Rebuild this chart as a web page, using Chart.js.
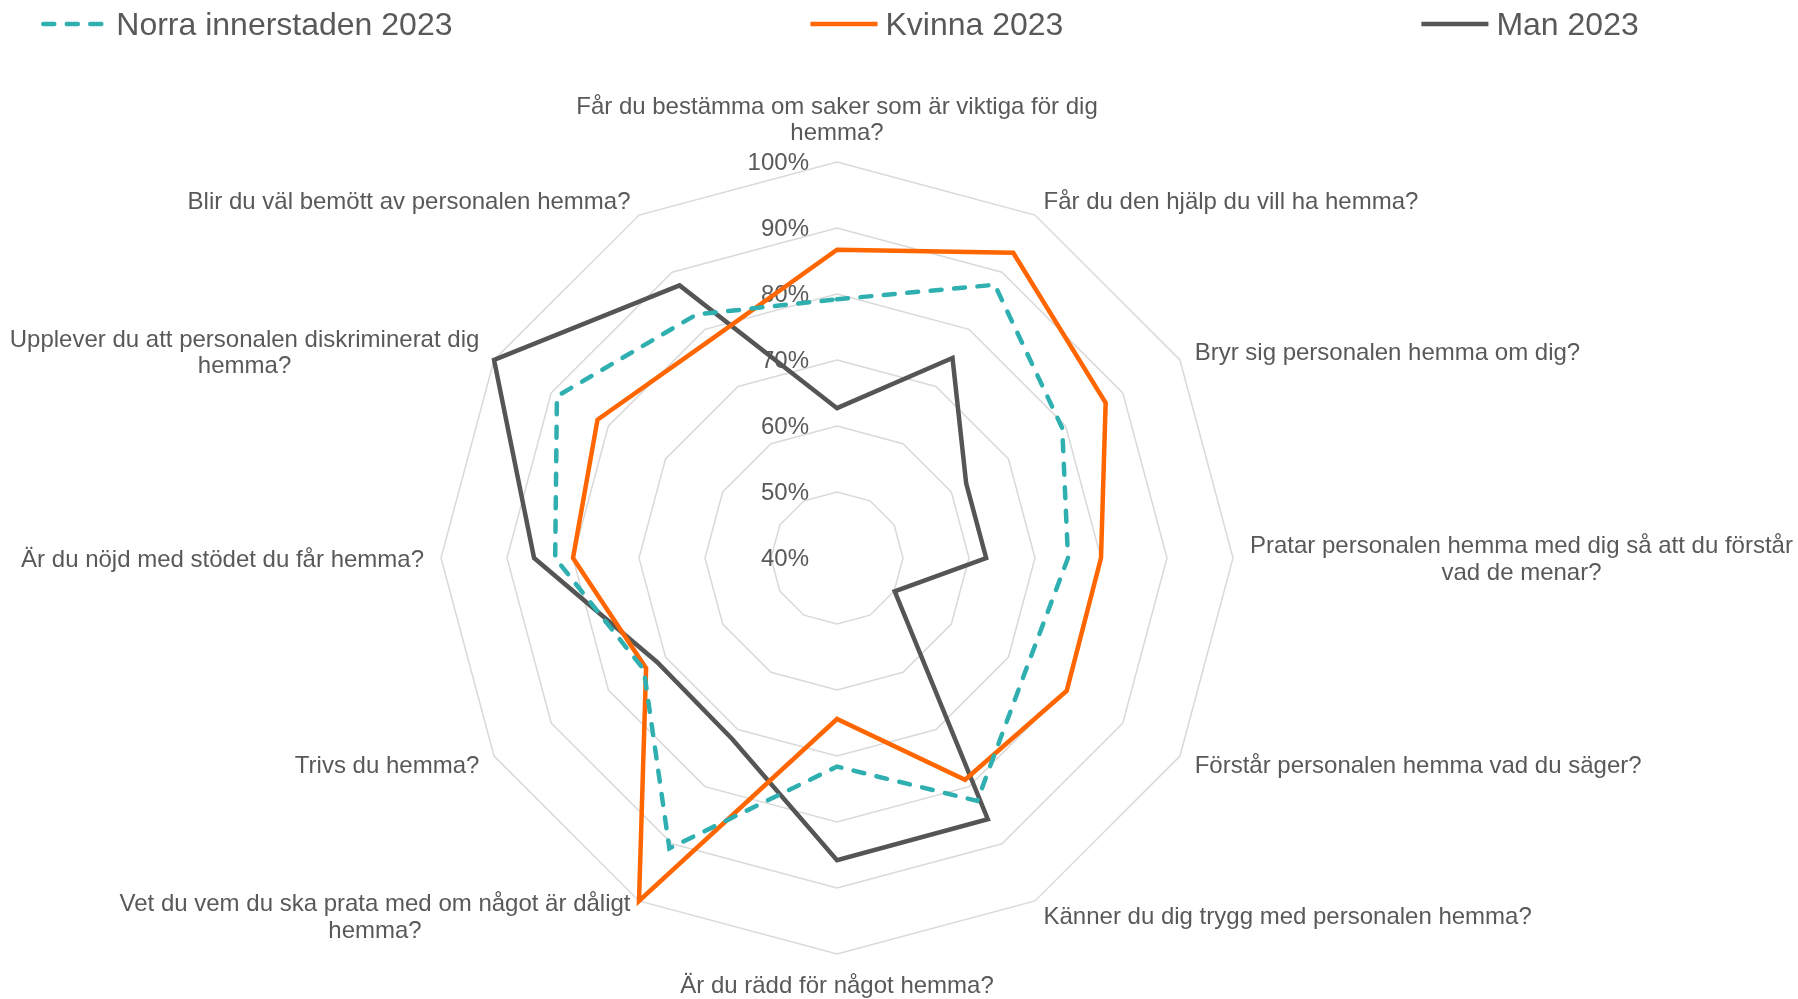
<!DOCTYPE html>
<html>
<head>
<meta charset="utf-8">
<script src="https://cdn.jsdelivr.net/npm/chart.js@4.4.1/dist/chart.umd.min.js"></script>
<style>
  html, body { margin: 0; background: #fff; }
  canvas { display: block; }
</style>
</head>
<body>
<canvas id="chart" width="1798" height="999"></canvas>
<script>
const categories = [
  ["Får du bestämma om saker som är viktiga för dig", "hemma?"],
  "Får du den hjälp du vill ha hemma?",
  "Bryr sig personalen hemma om dig?",
  ["Pratar personalen hemma med dig så att du förstår", "vad de menar?"],
  "Förstår personalen hemma vad du säger?",
  "Känner du dig trygg med personalen hemma?",
  "Är du rädd för något hemma?",
  ["Vet du vem du ska prata med om något är dåligt", "hemma?"],
  "Trivs du hemma?",
  "Är du nöjd med stödet du får hemma?",
  ["Upplever du att personalen diskriminerat dig", "hemma?"],
  "Blir du väl bemött av personalen hemma?"
];
const seriesNames = ["Norra innerstaden 2023", "Kvinna 2023", "Man 2023"];
const norra  = [79.2, 87.8, 79.4, 75.0, 73.2, 82.5, 71.6, 90.8, 73.8, 82.7, 89.0, 82.6];
const kvinna = [86.7, 93.4, 87.0, 80.0, 80.2, 78.8, 64.4, 100, 73.4, 80.0, 81.9, 78.2];
const man    = [62.7, 75.0, 62.6, 62.6, 50.1, 85.7, 85.8, 71.7, 71.5, 85.9, 100, 87.7];
const tickMin = 40, tickMax = 100, tickStep = 10;

const FONT = '"Liberation Sans", Arial, sans-serif';
const TEXT = "#595959";

// tick labels, question labels and the legend, placed from the r scale
const decor = {
  id: "decor",
  beforeDatasetsDraw(chart) {
    const s = chart.scales.r, ctx = chart.ctx;
    ctx.save();
    ctx.font = "24px " + FONT;
    ctx.fillStyle = TEXT;
    ctx.textAlign = "right";
    ctx.textBaseline = "middle";
    s.ticks.forEach(t => {
      const y = s.yCenter - s.getDistanceFromCenterForValue(t.value);
      ctx.fillText(t.value + "%", s.xCenter - 28, y + 1.5);
    });
    ctx.restore();
  },
  afterDraw(chart) {
    const s = chart.scales.r, ctx = chart.ctx;
    ctx.save();

    // question labels
    ctx.font = "24px " + FONT;
    ctx.fillStyle = TEXT;
    ctx.textAlign = "center";
    ctx.textBaseline = "middle";
    const lh = 26.6;
    chart.data.labels.forEach((lab, i) => {
      const lines = [].concat(lab);
      const p = s.getPointPosition(i, s.drawingArea + 17);
      const a = s.getIndexAngle(i);
      const sin = Math.sin(a), cos = Math.cos(a);
      const w = Math.max(...lines.map(l => ctx.measureText(l).width));
      let cx = p.x;
      if (sin > 0.01) cx = p.x + w / 2;
      else if (sin < -0.01) cx = p.x - w / 2;
      const h = lines.length * lh;
      let top = p.y - h / 2;
      if (cos > 0.99) top = p.y - h;
      else if (cos < -0.99) top = p.y;
      lines.forEach((l, k) => ctx.fillText(l, cx, top + lh * (k + 0.5) + 2));
    });

    // legend
    const lineLen = 67, textGap = 8, gap = 358, legendY = 24, legendCenter = 840;
    ctx.font = "32px " + FONT;
    ctx.textAlign = "left";
    const sets = chart.data.datasets;
    const widths = sets.map(d => lineLen + textGap + ctx.measureText(d.label).width);
    const total = widths.reduce((a, b) => a + b, 0) + gap * (sets.length - 1);
    let x = legendCenter - total / 2;
    sets.forEach((d, i) => {
      ctx.strokeStyle = d.borderColor;
      ctx.lineWidth = d.borderWidth;
      ctx.setLineDash(d.borderDash || []);
      ctx.lineCap = d.borderCapStyle || "butt";
      ctx.beginPath();
      ctx.moveTo(x + (d.borderDash ? 2 : 0), legendY);
      ctx.lineTo(x + lineLen, legendY);
      ctx.stroke();
      ctx.fillText(d.label, x + lineLen + textGap, legendY + 2);
      x += widths[i] + gap;
    });
    ctx.restore();
  }
};

new Chart(document.getElementById("chart"), {
  type: "radar",
  data: {
    labels: categories,
    datasets: [
      {
        label: seriesNames[0],
        data: norra,
        borderColor: "#2FAFB0",
        borderWidth: 4.5,
        borderDash: [11, 12.5],
        borderCapStyle: "round",
        fill: false,
        pointRadius: 0
      },
      {
        label: seriesNames[1],
        data: kvinna,
        borderColor: "#FF6600",
        borderWidth: 4.5,
        fill: false,
        pointRadius: 0
      },
      {
        label: seriesNames[2],
        data: man,
        borderColor: "#555555",
        borderWidth: 4.5,
        fill: false,
        pointRadius: 0
      }
    ]
  },
  options: {
    responsive: false,
    animation: false,
    devicePixelRatio: 1,
    layout: { padding: { top: 162, bottom: 45, left: 0, right: 124 } },
    plugins: { legend: { display: false }, tooltip: { enabled: false } },
    scales: {
      r: {
        min: tickMin,
        max: tickMax,
        ticks: { display: false, stepSize: tickStep },
        grid: { color: "#D9D9D9", lineWidth: 1.5 },
        angleLines: { display: false },
        pointLabels: { display: false }
      }
    }
  },
  plugins: [decor]
});
</script>
</body>
</html>
